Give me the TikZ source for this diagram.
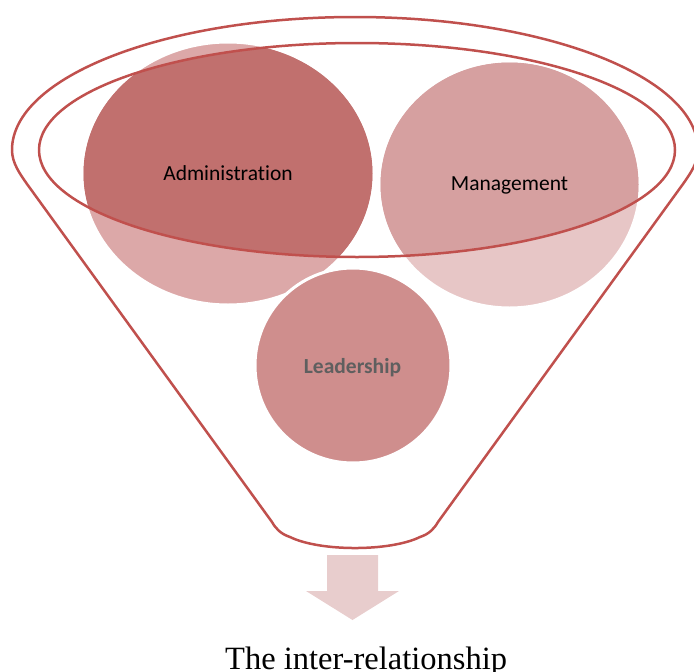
\documentclass[tikz,border=0pt]{standalone}
\usepackage{fontspec}
\setmainfont{Liberation Serif}
\newfontfamily\calibri[Ligatures=NoCommon]{Carlito}
\definecolor{funnelred}{RGB}{192,80,77}
\definecolor{admlight}{RGB}{220,168,168}
\definecolor{admdark}{RGB}{193,112,110}
\definecolor{mgtlight}{RGB}{231,198,198}
\definecolor{mgtdark}{RGB}{214,160,160}
\definecolor{ldrfill}{RGB}{207,142,141}
\definecolor{arrowfill}{RGB}{232,205,205}
\definecolor{ldrtext}{RGB}{95,95,95}
\begin{document}
\begin{tikzpicture}[x=1pt,y=-1pt,
  funnelline/.style={draw=funnelred,line width=2.5pt,line join=round},
  circlelight/.style={draw=white,line width=3pt},
  labeltext/.style={font=\calibri\fontsize{21.5}{24}\selectfont,anchor=base,inner sep=0pt}]
\useasboundingbox (0,0) rectangle (694,672);
% circles (light parts)
\fill[admlight,circlelight] (228,173.5) ellipse [x radius=146,y radius=131.5];
\fill[mgtlight,circlelight] (509.5,184.5) ellipse [x radius=130.5,y radius=123.5];
% darker parts inside the inner ellipse
\begin{scope}
  \clip (357,150) ellipse [x radius=318,y radius=107];
  \fill[admdark] (228,173.5) ellipse [x radius=144.5,y radius=130];
  \fill[mgtdark] (509.5,184.5) ellipse [x radius=129,y radius=122];
\end{scope}
\fill[ldrfill,circlelight] (353,365.5) ellipse [x radius=98,y radius=97.5];
% funnel outline
\draw[funnelline] (272,522) -- (27,184) .. controls (20,174) and (12,163) .. (12,150)
  arc[start angle=180,end angle=360,x radius=343,y radius=133]
  .. controls (698,163) and (690,174) .. (683,184) -- (438,522)
  .. controls (434,529) and (429,534) .. (420,537)
  .. controls (390,551.7) and (320,551.7) .. (290,537)
  .. controls (281,534) and (276,529) .. (272,522) -- cycle;
\draw[funnelline] (357,150) ellipse [x radius=318,y radius=107];
% arrow
\fill[arrowfill] (327,555) -- (378,555) -- (378,591) -- (399,591) -- (352.5,620)
  -- (306,591) -- (327,591) -- cycle;
% labels
\node[labeltext] (adm) at (228,180) {Administration};
\node[labeltext] (mgt) at (509.5,190) {Management};
\node[labeltext,text=ldrtext,font=\calibri\bfseries\fontsize{21.5}{24}\selectfont] (ldr) at (352.5,373) {Leadership};
\node[anchor=base west,inner sep=0pt,font=\fontsize{32.5}{36}\selectfont] (res) at (225,669) {The inter-relationship};
\end{tikzpicture}
\end{document}
